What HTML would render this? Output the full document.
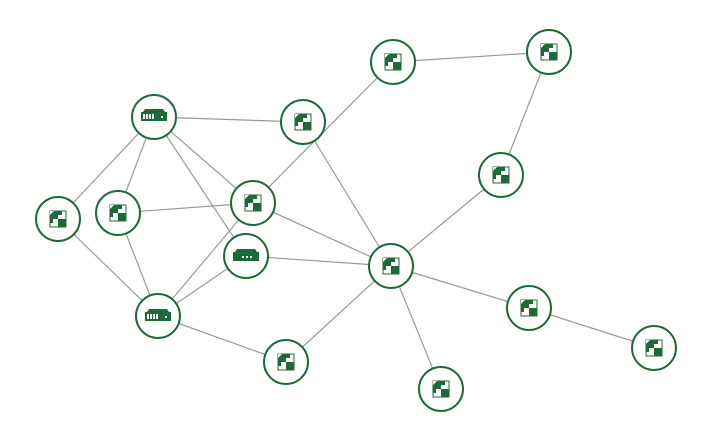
<!DOCTYPE html>
<html><head><meta charset="utf-8"><style>html,body{margin:0;padding:0;background:#fff}svg{display:block}</style></head>
<body>
<svg width="722" height="442" viewBox="0 0 722 442" xmlns="http://www.w3.org/2000/svg">
<defs>
<g id="cube">
<rect x="-8" y="-8" width="16" height="16" fill="#fff" stroke="#1d6a38" stroke-width="1"/>
<rect x="-8" y="-8" width="8" height="8" fill="#1d6a38"/>
<rect x="0" y="0" width="8" height="8" fill="#1d6a38"/>
<rect x="0" y="-8" width="4" height="4" fill="#1d6a38"/>
<rect x="-8" y="0" width="3" height="4" fill="#1d6a38"/>
<path d="M-8,-8 L-4,-8 L-8,-4 Z" fill="#fff"/>
</g>
<g id="server">
<path d="M-11,-5 L-9,-8 L9,-8 L11,-5 Z" fill="#1d6a38"/>
<rect x="-13" y="-5" width="26" height="9" fill="#1d6a38"/>
<rect x="-11" y="-3" width="2" height="5" fill="#fff"/><rect x="-8" y="-3" width="2" height="5" fill="#fff"/><rect x="-5" y="-3" width="2" height="5" fill="#fff"/><rect x="-2" y="-3" width="2" height="5" fill="#fff"/>
<rect x="7" y="-1" width="2" height="2" fill="#fff"/>
</g>
<g id="router">
<path d="M-11,-4 L-9,-7 L9,-7 L11,-4 Z" fill="#1d6a38"/>
<rect x="-13" y="-4" width="26" height="9" fill="#1d6a38"/>
<rect x="-4" y="0" width="2" height="2" fill="#fff"/><rect x="0" y="0" width="2" height="2" fill="#fff"/><rect x="4" y="0" width="2" height="2" fill="#fff"/>
</g>
</defs>
<g stroke="#999" stroke-width="1.2">
<line x1="154" y1="117" x2="303" y2="122"/>
<line x1="154" y1="117" x2="58" y2="219"/>
<line x1="154" y1="117" x2="118" y2="213"/>
<line x1="154" y1="117" x2="253" y2="203"/>
<line x1="154" y1="117" x2="246" y2="256"/>
<line x1="118" y1="213" x2="253" y2="203"/>
<line x1="118" y1="213" x2="158" y2="316"/>
<line x1="58" y1="219" x2="158" y2="316"/>
<line x1="253" y1="203" x2="158" y2="316"/>
<line x1="246" y1="256" x2="158" y2="316"/>
<line x1="246" y1="256" x2="391" y2="266"/>
<line x1="253" y1="203" x2="391" y2="266"/>
<line x1="253" y1="203" x2="393" y2="62"/>
<line x1="303" y1="122" x2="391" y2="266"/>
<line x1="393" y1="62" x2="549" y2="52"/>
<line x1="549" y1="52" x2="501" y2="175"/>
<line x1="501" y1="175" x2="391" y2="266"/>
<line x1="391" y1="266" x2="529" y2="308"/>
<line x1="529" y1="308" x2="654" y2="348"/>
<line x1="391" y1="266" x2="441" y2="389"/>
<line x1="391" y1="266" x2="286" y2="362"/>
<line x1="286" y1="362" x2="158" y2="316"/>
</g>
<g fill="#fff" stroke="#1d6a38" stroke-width="2">
<circle cx="154" cy="117" r="22"/><circle cx="303" cy="122" r="22"/><circle cx="393" cy="62" r="22"/>
<circle cx="549" cy="52" r="22"/><circle cx="58" cy="219" r="22"/><circle cx="118" cy="213" r="22"/>
<circle cx="253" cy="203" r="22"/><circle cx="246" cy="256" r="22"/><circle cx="501" cy="175" r="22"/>
<circle cx="391" cy="266" r="22"/><circle cx="158" cy="316" r="22"/><circle cx="529" cy="308" r="22"/>
<circle cx="286" cy="362" r="22"/><circle cx="441" cy="389" r="22"/><circle cx="654" cy="348" r="22"/>
</g>
<use href="#server" x="154" y="117"/>
<use href="#server" x="158" y="317"/>
<use href="#router" x="246" y="256"/>
<use href="#cube" x="303" y="122"/><use href="#cube" x="393" y="62"/><use href="#cube" x="549" y="52"/>
<use href="#cube" x="58" y="219"/><use href="#cube" x="118" y="213"/><use href="#cube" x="253" y="203"/>
<use href="#cube" x="501" y="175"/><use href="#cube" x="391" y="266"/><use href="#cube" x="529" y="308"/>
<use href="#cube" x="286" y="362"/><use href="#cube" x="441" y="389"/><use href="#cube" x="654" y="348"/>
</svg>
</body></html>
